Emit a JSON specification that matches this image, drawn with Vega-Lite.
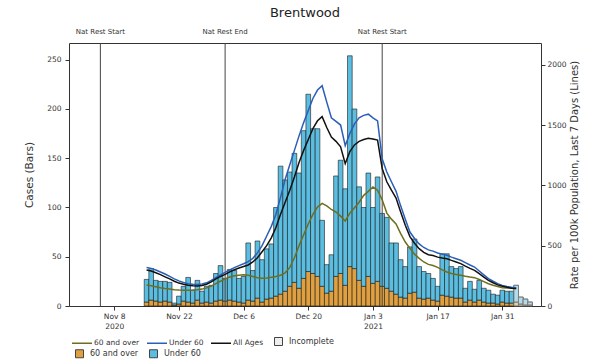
{
  "$schema": "https://vega.github.io/schema/vega-lite/v6.json",
  "width": 472,
  "height": 263,
  "autosize": {"type": "none"},
  "padding": {"left": 69, "top": 43, "right": 63, "bottom": 58},
  "title": {"text": "Brentwood", "fontSize": 13, "font": "DejaVu Sans", "fontWeight": "normal", "color": "#222", "anchor": "middle", "offset": 8},
  "config": {
    "font": "DejaVu Sans",
    "view": {"stroke": "#333", "strokeWidth": 1},
    "axis": {"labelFont": "DejaVu Sans", "labelFontSize": 7.5, "labelColor": "#333", "tickColor": "#333", "tickSize": 4, "domain": false, "grid": false, "titleFont": "DejaVu Sans", "titleFontSize": 10.5, "titleFontWeight": "normal", "titleColor": "#333"},
    "legend": {"labelFont": "DejaVu Sans", "labelFontSize": 8, "labelColor": "#333", "padding": 0, "orient": "none", "direction": "horizontal", "title": null}
  },
  "datasets": {
    "cases": [
      {"date":"2020-11-15","60 and over":4,"Under 60":23,"incomplete":false},
      {"date":"2020-11-16","60 and over":6,"Under 60":32,"incomplete":false},
      {"date":"2020-11-17","60 and over":5,"Under 60":21,"incomplete":false},
      {"date":"2020-11-18","60 and over":4,"Under 60":21,"incomplete":false},
      {"date":"2020-11-19","60 and over":5,"Under 60":20,"incomplete":false},
      {"date":"2020-11-20","60 and over":4,"Under 60":20,"incomplete":false},
      {"date":"2020-11-21","60 and over":1,"Under 60":2,"incomplete":false},
      {"date":"2020-11-22","60 and over":2,"Under 60":8,"incomplete":false},
      {"date":"2020-11-23","60 and over":5,"Under 60":15,"incomplete":false},
      {"date":"2020-11-24","60 and over":4,"Under 60":25,"incomplete":false},
      {"date":"2020-11-25","60 and over":3,"Under 60":13,"incomplete":false},
      {"date":"2020-11-26","60 and over":6,"Under 60":20,"incomplete":false},
      {"date":"2020-11-27","60 and over":3,"Under 60":12,"incomplete":false},
      {"date":"2020-11-28","60 and over":4,"Under 60":16,"incomplete":false},
      {"date":"2020-11-29","60 and over":3,"Under 60":18,"incomplete":false},
      {"date":"2020-11-30","60 and over":5,"Under 60":28,"incomplete":false},
      {"date":"2020-12-01","60 and over":6,"Under 60":35,"incomplete":false},
      {"date":"2020-12-02","60 and over":5,"Under 60":23,"incomplete":false},
      {"date":"2020-12-03","60 and over":6,"Under 60":31,"incomplete":false},
      {"date":"2020-12-04","60 and over":5,"Under 60":31,"incomplete":false},
      {"date":"2020-12-05","60 and over":4,"Under 60":24,"incomplete":false},
      {"date":"2020-12-06","60 and over":3,"Under 60":27,"incomplete":false},
      {"date":"2020-12-07","60 and over":6,"Under 60":58,"incomplete":false},
      {"date":"2020-12-08","60 and over":5,"Under 60":31,"incomplete":false},
      {"date":"2020-12-09","60 and over":8,"Under 60":58,"incomplete":false},
      {"date":"2020-12-10","60 and over":4,"Under 60":43,"incomplete":false},
      {"date":"2020-12-11","60 and over":7,"Under 60":51,"incomplete":false},
      {"date":"2020-12-12","60 and over":8,"Under 60":55,"incomplete":false},
      {"date":"2020-12-13","60 and over":10,"Under 60":90,"incomplete":false},
      {"date":"2020-12-14","60 and over":12,"Under 60":130,"incomplete":false},
      {"date":"2020-12-15","60 and over":15,"Under 60":113,"incomplete":false},
      {"date":"2020-12-16","60 and over":20,"Under 60":116,"incomplete":false},
      {"date":"2020-12-17","60 and over":24,"Under 60":131,"incomplete":false},
      {"date":"2020-12-18","60 and over":18,"Under 60":117,"incomplete":false},
      {"date":"2020-12-19","60 and over":28,"Under 60":150,"incomplete":false},
      {"date":"2020-12-20","60 and over":35,"Under 60":180,"incomplete":false},
      {"date":"2020-12-21","60 and over":33,"Under 60":147,"incomplete":false},
      {"date":"2020-12-22","60 and over":30,"Under 60":150,"incomplete":false},
      {"date":"2020-12-23","60 and over":20,"Under 60":67,"incomplete":false},
      {"date":"2020-12-24","60 and over":13,"Under 60":29,"incomplete":false},
      {"date":"2020-12-25","60 and over":15,"Under 60":37,"incomplete":false},
      {"date":"2020-12-26","60 and over":30,"Under 60":102,"incomplete":false},
      {"date":"2020-12-27","60 and over":33,"Under 60":115,"incomplete":false},
      {"date":"2020-12-28","60 and over":21,"Under 60":98,"incomplete":false},
      {"date":"2020-12-29","60 and over":40,"Under 60":214,"incomplete":false},
      {"date":"2020-12-30","60 and over":38,"Under 60":162,"incomplete":false},
      {"date":"2020-12-31","60 and over":26,"Under 60":95,"incomplete":false},
      {"date":"2021-01-01","60 and over":20,"Under 60":80,"incomplete":false},
      {"date":"2021-01-02","60 and over":30,"Under 60":105,"incomplete":false},
      {"date":"2021-01-03","60 and over":23,"Under 60":77,"incomplete":false},
      {"date":"2021-01-04","60 and over":25,"Under 60":106,"incomplete":false},
      {"date":"2021-01-05","60 and over":20,"Under 60":74,"incomplete":false},
      {"date":"2021-01-06","60 and over":18,"Under 60":72,"incomplete":false},
      {"date":"2021-01-07","60 and over":15,"Under 60":49,"incomplete":false},
      {"date":"2021-01-08","60 and over":12,"Under 60":52,"incomplete":false},
      {"date":"2021-01-09","60 and over":9,"Under 60":38,"incomplete":false},
      {"date":"2021-01-10","60 and over":8,"Under 60":32,"incomplete":false},
      {"date":"2021-01-11","60 and over":13,"Under 60":47,"incomplete":false},
      {"date":"2021-01-12","60 and over":14,"Under 60":54,"incomplete":false},
      {"date":"2021-01-13","60 and over":8,"Under 60":32,"incomplete":false},
      {"date":"2021-01-14","60 and over":7,"Under 60":28,"incomplete":false},
      {"date":"2021-01-15","60 and over":8,"Under 60":25,"incomplete":false},
      {"date":"2021-01-16","60 and over":6,"Under 60":22,"incomplete":false},
      {"date":"2021-01-17","60 and over":5,"Under 60":15,"incomplete":false},
      {"date":"2021-01-18","60 and over":11,"Under 60":42,"incomplete":false},
      {"date":"2021-01-19","60 and over":10,"Under 60":43,"incomplete":false},
      {"date":"2021-01-20","60 and over":9,"Under 60":31,"incomplete":false},
      {"date":"2021-01-21","60 and over":8,"Under 60":30,"incomplete":false},
      {"date":"2021-01-22","60 and over":8,"Under 60":32,"incomplete":false},
      {"date":"2021-01-23","60 and over":4,"Under 60":14,"incomplete":false},
      {"date":"2021-01-24","60 and over":6,"Under 60":19,"incomplete":false},
      {"date":"2021-01-25","60 and over":4,"Under 60":13,"incomplete":false},
      {"date":"2021-01-26","60 and over":6,"Under 60":20,"incomplete":false},
      {"date":"2021-01-27","60 and over":4,"Under 60":14,"incomplete":false},
      {"date":"2021-01-28","60 and over":3,"Under 60":13,"incomplete":false},
      {"date":"2021-01-29","60 and over":3,"Under 60":9,"incomplete":false},
      {"date":"2021-01-30","60 and over":2,"Under 60":9,"incomplete":false},
      {"date":"2021-01-31","60 and over":4,"Under 60":12,"incomplete":false},
      {"date":"2021-02-01","60 and over":3,"Under 60":12,"incomplete":false},
      {"date":"2021-02-02","60 and over":3,"Under 60":12,"incomplete":false},
      {"date":"2021-02-03","60 and over":4,"Under 60":17,"incomplete":true},
      {"date":"2021-02-04","60 and over":2,"Under 60":7,"incomplete":true},
      {"date":"2021-02-05","60 and over":1,"Under 60":6,"incomplete":true},
      {"date":"2021-02-06","60 and over":1,"Under 60":3,"incomplete":true}
    ],
    "rates": [
      {"date":"2020-11-15","60 and over":175,"Under 60":320,"All Ages":298},
      {"date":"2020-11-16","60 and over":168,"Under 60":312,"All Ages":290},
      {"date":"2020-11-17","60 and over":160,"Under 60":298,"All Ages":275},
      {"date":"2020-11-18","60 and over":152,"Under 60":282,"All Ages":260},
      {"date":"2020-11-19","60 and over":145,"Under 60":265,"All Ages":242},
      {"date":"2020-11-20","60 and over":140,"Under 60":245,"All Ages":225},
      {"date":"2020-11-21","60 and over":135,"Under 60":225,"All Ages":205},
      {"date":"2020-11-22","60 and over":132,"Under 60":208,"All Ages":190},
      {"date":"2020-11-23","60 and over":130,"Under 60":195,"All Ages":180},
      {"date":"2020-11-24","60 and over":130,"Under 60":185,"All Ages":172},
      {"date":"2020-11-25","60 and over":132,"Under 60":180,"All Ages":167},
      {"date":"2020-11-26","60 and over":135,"Under 60":178,"All Ages":165},
      {"date":"2020-11-27","60 and over":140,"Under 60":182,"All Ages":170},
      {"date":"2020-11-28","60 and over":150,"Under 60":192,"All Ages":180},
      {"date":"2020-11-29","60 and over":165,"Under 60":212,"All Ages":200},
      {"date":"2020-11-30","60 and over":185,"Under 60":235,"All Ages":225},
      {"date":"2020-12-01","60 and over":205,"Under 60":258,"All Ages":245},
      {"date":"2020-12-02","60 and over":225,"Under 60":278,"All Ages":262},
      {"date":"2020-12-03","60 and over":240,"Under 60":300,"All Ages":283},
      {"date":"2020-12-04","60 and over":250,"Under 60":318,"All Ages":300},
      {"date":"2020-12-05","60 and over":255,"Under 60":335,"All Ages":315},
      {"date":"2020-12-06","60 and over":258,"Under 60":350,"All Ages":328},
      {"date":"2020-12-07","60 and over":255,"Under 60":368,"All Ages":340},
      {"date":"2020-12-08","60 and over":245,"Under 60":395,"All Ages":365},
      {"date":"2020-12-09","60 and over":235,"Under 60":440,"All Ages":400},
      {"date":"2020-12-10","60 and over":230,"Under 60":500,"All Ages":450},
      {"date":"2020-12-11","60 and over":232,"Under 60":580,"All Ages":500},
      {"date":"2020-12-12","60 and over":238,"Under 60":660,"All Ages":565},
      {"date":"2020-12-13","60 and over":245,"Under 60":760,"All Ages":650},
      {"date":"2020-12-14","60 and over":255,"Under 60":900,"All Ages":760},
      {"date":"2020-12-15","60 and over":275,"Under 60":1050,"All Ages":860},
      {"date":"2020-12-16","60 and over":320,"Under 60":1170,"All Ages":960},
      {"date":"2020-12-17","60 and over":400,"Under 60":1290,"All Ages":1070},
      {"date":"2020-12-18","60 and over":500,"Under 60":1410,"All Ages":1190},
      {"date":"2020-12-19","60 and over":590,"Under 60":1520,"All Ages":1290},
      {"date":"2020-12-20","60 and over":680,"Under 60":1620,"All Ages":1380},
      {"date":"2020-12-21","60 and over":760,"Under 60":1720,"All Ages":1470},
      {"date":"2020-12-22","60 and over":820,"Under 60":1790,"All Ages":1535},
      {"date":"2020-12-23","60 and over":851,"Under 60":1826,"All Ages":1570},
      {"date":"2020-12-24","60 and over":830,"Under 60":1690,"All Ages":1480},
      {"date":"2020-12-25","60 and over":800,"Under 60":1560,"All Ages":1400},
      {"date":"2020-12-26","60 and over":779,"Under 60":1530,"All Ages":1365},
      {"date":"2020-12-27","60 and over":745,"Under 60":1500,"All Ages":1320},
      {"date":"2020-12-28","60 and over":705,"Under 60":1330,"All Ages":1180},
      {"date":"2020-12-29","60 and over":770,"Under 60":1430,"All Ages":1280},
      {"date":"2020-12-30","60 and over":815,"Under 60":1510,"All Ages":1335},
      {"date":"2020-12-31","60 and over":860,"Under 60":1560,"All Ages":1365},
      {"date":"2021-01-01","60 and over":917,"Under 60":1580,"All Ages":1380},
      {"date":"2021-01-02","60 and over":950,"Under 60":1590,"All Ages":1390},
      {"date":"2021-01-03","60 and over":986,"Under 60":1560,"All Ages":1385},
      {"date":"2021-01-04","60 and over":960,"Under 60":1535,"All Ages":1375},
      {"date":"2021-01-05","60 and over":880,"Under 60":1220,"All Ages":1140},
      {"date":"2021-01-06","60 and over":770,"Under 60":1110,"All Ages":1030},
      {"date":"2021-01-07","60 and over":720,"Under 60":1030,"All Ages":960},
      {"date":"2021-01-08","60 and over":680,"Under 60":950,"All Ages":895},
      {"date":"2021-01-09","60 and over":600,"Under 60":830,"All Ages":780},
      {"date":"2021-01-10","60 and over":530,"Under 60":720,"All Ages":670},
      {"date":"2021-01-11","60 and over":478,"Under 60":613,"All Ages":575},
      {"date":"2021-01-12","60 and over":430,"Under 60":560,"All Ages":520},
      {"date":"2021-01-13","60 and over":395,"Under 60":515,"All Ages":475},
      {"date":"2021-01-14","60 and over":365,"Under 60":485,"All Ages":445},
      {"date":"2021-01-15","60 and over":345,"Under 60":465,"All Ages":425},
      {"date":"2021-01-16","60 and over":335,"Under 60":455,"All Ages":418},
      {"date":"2021-01-17","60 and over":320,"Under 60":440,"All Ages":405},
      {"date":"2021-01-18","60 and over":300,"Under 60":430,"All Ages":398},
      {"date":"2021-01-19","60 and over":282,"Under 60":420,"All Ages":392},
      {"date":"2021-01-20","60 and over":270,"Under 60":405,"All Ages":378},
      {"date":"2021-01-21","60 and over":262,"Under 60":392,"All Ages":365},
      {"date":"2021-01-22","60 and over":254,"Under 60":379,"All Ages":351},
      {"date":"2021-01-23","60 and over":246,"Under 60":360,"All Ages":330},
      {"date":"2021-01-24","60 and over":240,"Under 60":340,"All Ages":312},
      {"date":"2021-01-25","60 and over":235,"Under 60":323,"All Ages":296},
      {"date":"2021-01-26","60 and over":220,"Under 60":290,"All Ages":268},
      {"date":"2021-01-27","60 and over":202,"Under 60":258,"All Ages":240},
      {"date":"2021-01-28","60 and over":185,"Under 60":227,"All Ages":213},
      {"date":"2021-01-29","60 and over":172,"Under 60":205,"All Ages":193},
      {"date":"2021-01-30","60 and over":162,"Under 60":185,"All Ages":175},
      {"date":"2021-01-31","60 and over":152,"Under 60":171,"All Ages":163},
      {"date":"2021-02-01","60 and over":150,"Under 60":162,"All Ages":155},
      {"date":"2021-02-02","60 and over":148,"Under 60":155,"All Ages":148},
      {"date":"2021-02-03","60 and over":146,"Under 60":150,"All Ages":145}
    ],
    "events": [
      {"date":"2020-11-05","label":"Nat Rest Start"},
      {"date":"2020-12-02","label":"Nat Rest End"},
      {"date":"2021-01-05","label":"Nat Rest Start"}
    ]
  },
  "layer": [
    {
      "layer": [
        {
          "data": {"name": "cases"},
          "transform": [{"fold": ["60 and over", "Under 60"], "as": ["group", "cases"]}],
          "mark": {"type": "bar", "width": 4.7, "stroke": "#1a1a1a", "strokeWidth": 0.6},
          "encoding": {
            "x": {
              "field": "date", "type": "temporal",
              "scale": {"type": "utc", "domain": [{"year": 2020, "month": 10, "date": 30, "hours": 7, "utc": true}, {"year": 2021, "month": 2, "date": 7, "hours": 7, "utc": true}]},
              "axis": {
                "title": null,
                "values": [
                  {"year": 2020, "month": 11, "date": 8, "utc": true},
                  {"year": 2020, "month": 11, "date": 22, "utc": true},
                  {"year": 2020, "month": 12, "date": 6, "utc": true},
                  {"year": 2020, "month": 12, "date": 20, "utc": true},
                  {"year": 2021, "month": 1, "date": 3, "utc": true},
                  {"year": 2021, "month": 1, "date": 17, "utc": true},
                  {"year": 2021, "month": 1, "date": 31, "utc": true}
                ],
                "labelExpr": "(utcmonth(datum.value)==10 && utcdate(datum.value)==8) ? ['Nov 8','2020'] : ((utcmonth(datum.value)==0 && utcdate(datum.value)==3) ? ['Jan 3','2021'] : utcFormat(datum.value, '%b %-d'))",
                "labelOverlap": false,
                "labelPadding": 2,
                "labelLineHeight": 10,
                "labelBaseline": "top"
              }
            },
            "y": {
              "field": "cases", "type": "quantitative", "stack": "zero",
              "scale": {"domain": [0, 267], "nice": false},
              "axis": {"orient": "left", "title": "Cases (Bars)", "values": [0, 50, 100, 150, 200, 250], "labelPadding": 4, "titlePadding": 12}
            },
            "color": {
              "field": "group", "type": "nominal",
              "scale": {"domain": ["60 and over", "Under 60"], "range": ["#e0a040", "#5bbde0"]},
              "legend": {"legendX": 6, "legendY": 306, "symbolType": "square", "symbolSize": 64, "symbolStrokeColor": "#444", "symbolStrokeWidth": 1, "columnPadding": 8, "labelOffset": 6}
            },
            "order": {"field": "group", "sort": "ascending"}
          }
        },
        {
          "data": {"name": "cases"},
          "transform": [{"filter": "datum.incomplete"}, {"fold": ["60 and over", "Under 60"], "as": ["group", "cases"]}],
          "mark": {"type": "bar", "width": 4.7, "stroke": "#777", "strokeWidth": 0.8, "fillOpacity": 0.6},
          "encoding": {
            "x": {"field": "date", "type": "temporal"},
            "y": {"field": "cases", "type": "quantitative", "stack": "zero"},
            "detail": {"field": "group"},
            "order": {"field": "group", "sort": "ascending"},
            "fill": {
              "datum": "Incomplete", "type": "nominal",
              "scale": {"range": ["#eeeeee"]},
              "legend": {"legendX": 205, "legendY": 294, "symbolType": "square", "symbolSize": 64, "symbolStrokeColor": "#444", "symbolStrokeWidth": 1, "symbolOpacity": 1, "symbolFillColor": "#eeeeee", "labelOffset": 6}
            }
          }
        },
        {
          "data": {"name": "events"},
          "mark": {"type": "rule", "color": "#444", "strokeWidth": 1},
          "encoding": {"x": {"field": "date", "type": "temporal"}}
        },
        {
          "data": {"name": "events"},
          "mark": {"type": "text", "fontSize": 7, "color": "#333", "baseline": "middle", "font": "DejaVu Sans"},
          "encoding": {
            "x": {"field": "date", "type": "temporal"},
            "y": {"datum": 278, "type": "quantitative"},
            "text": {"field": "label"}
          }
        }
      ]
    },
    {
      "layer": [
        {
          "data": {"name": "rates"},
          "transform": [{"fold": ["60 and over", "Under 60", "All Ages"], "as": ["series", "rate"]}],
          "mark": {"type": "line"},
          "encoding": {
            "x": {"field": "date", "type": "temporal"},
            "y": {
              "field": "rate", "type": "quantitative",
              "scale": {"domain": [0, 2180], "nice": false},
              "axis": {"orient": "right", "title": "Rate per 100k Population, Last 7 Days (Lines)", "titleFontSize": 10, "values": [0, 500, 1000, 1500, 2000], "format": "d", "labelPadding": 2, "titlePadding": 13, "titleAngle": 270}
            },
            "stroke": {
              "field": "series", "type": "ordinal",
              "scale": {"domain": ["60 and over", "Under 60", "All Ages"], "range": ["#6e6e1e", "#2b5eb8", "#111111"]},
              "legend": {"legendX": 2, "legendY": 289, "symbolType": "stroke", "symbolSize": 400, "columnPadding": 4, "labelOffset": 1, "labelFontSize": 7.5}
            },
            "strokeWidth": {
              "field": "series", "type": "ordinal",
              "scale": {"domain": ["60 and over", "Under 60", "All Ages"], "range": [1.5, 1.5, 2.2]},
              "legend": {"legendX": 2, "legendY": 289, "symbolType": "stroke", "symbolSize": 400, "columnPadding": 4, "labelOffset": 1, "labelFontSize": 7.5}
            }
          }
        }
      ]
    }
  ],
  "resolve": {"scale": {"y": "independent"}}
}
